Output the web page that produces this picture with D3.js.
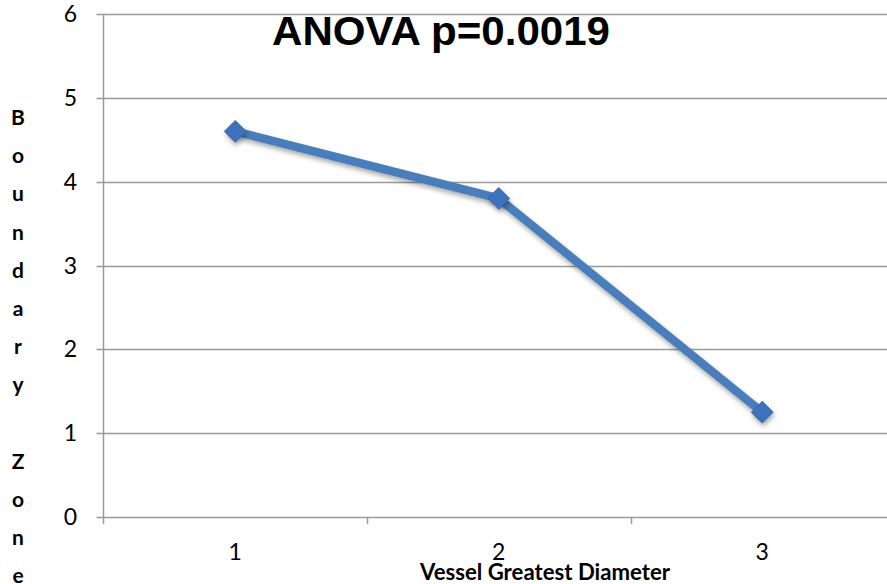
<!DOCTYPE html>
<html lang="en">
<head>
  <meta charset="utf-8">
  <script src="https://d3js.org/d3.v7.min.js"></script>
  <style>
    body { margin: 0; background: white; }
    svg { display: block; font-family: Lato, "Open Sans", sans-serif; }
  </style>
</head>
<body>
  <svg id="chart" width="887" height="584"></svg>
  <script>
    // data
    const categories = ["1", "2", "3"];
    const values = [4.6, 3.8, 1.25];
    const yTicks = [0, 1, 2, 3, 4, 5, 6];
    const titleText = "ANOVA p=0.0019";
    const xTitle = "Vessel Greatest Diameter";
    const yTitle = "Boundary Zone";

    const svg = d3.select("#chart");
    const width = +svg.attr("width");

    const plot = { left: 103.5, right: 894, top: 14, bottom: 517 };

    const x = d3.scalePoint()
      .domain(categories)
      .range([plot.left, plot.right])
      .padding(0.5);
    const step = x.step();

    const y = d3.scaleLinear()
      .domain([0, 6])
      .range([plot.bottom, plot.top]);

    // horizontal gridlines + ticks
    svg.append("g")
      .selectAll("line")
      .data(yTicks)
      .join("line")
      .attr("x1", plot.left - 7)
      .attr("x2", width)
      .attr("y1", d => Math.round(y(d)) + 0.5)
      .attr("y2", d => Math.round(y(d)) + 0.5)
      .attr("stroke", "#9a9a9a")
      .attr("stroke-width", 1.5);

    // y axis line
    svg.append("line")
      .attr("x1", plot.left).attr("x2", plot.left)
      .attr("y1", plot.top).attr("y2", plot.bottom + 7)
      .attr("stroke", "#9a9a9a")
      .attr("stroke-width", 1.5);

    // x axis tick marks between categories
    const xTickPos = d3.range(1, categories.length + 1).map(i => plot.left + i * step);
    svg.append("g")
      .selectAll("line")
      .data(xTickPos)
      .join("line")
      .attr("x1", d => Math.round(d) + 0.5)
      .attr("x2", d => Math.round(d) + 0.5)
      .attr("y1", plot.bottom)
      .attr("y2", plot.bottom + 7)
      .attr("stroke", "#9a9a9a")
      .attr("stroke-width", 1.5);

    // y tick labels
    svg.append("g")
      .selectAll("text")
      .data(yTicks)
      .join("text")
      .attr("x", 77)
      .attr("y", d => y(d) + 8)
      .attr("text-anchor", "end")
      .attr("font-size", 23)
      .text(d => d);

    // x tick labels
    svg.append("g")
      .selectAll("text")
      .data(categories)
      .join("text")
      .attr("x", d => x(d))
      .attr("y", 560)
      .attr("text-anchor", "middle")
      .attr("font-size", 23)
      .text(d => d);

    // title
    svg.append("text")
      .attr("x", 441)
      .attr("y", 45)
      .attr("text-anchor", "middle")
      .attr("font-family", "'Liberation Sans', Arial, sans-serif")
      .attr("font-size", 41)
      .attr("font-weight", "bold")
      .attr("textLength", 338)
      .attr("lengthAdjust", "spacingAndGlyphs")
      .text(titleText);

    // x axis title
    svg.append("text")
      .attr("x", 545)
      .attr("y", 580)
      .attr("text-anchor", "middle")
      .attr("font-size", 22)
      .attr("font-weight", "bold")
      .attr("textLength", 250)
      .attr("lengthAdjust", "spacingAndGlyphs")
      .text(xTitle);

    // y axis title, one letter per row
    svg.append("g")
      .selectAll("text")
      .data(yTitle.split(""))
      .join("text")
      .attr("x", 18)
      .attr("y", (d, i) => 125 + i * 38.2)
      .attr("text-anchor", "middle")
      .attr("font-size", 21)
      .attr("font-weight", "bold")
      .text(d => d);

    // shadow filter
    const defs = svg.append("defs");
    const f = defs.append("filter").attr("id", "shadow")
      .attr("x", "-50%").attr("y", "-50%").attr("width", "200%").attr("height", "200%");
    f.append("feDropShadow")
      .attr("dx", 1).attr("dy", 3).attr("stdDeviation", 2.5)
      .attr("flood-color", "#000").attr("flood-opacity", 0.35);

    const pts = categories.map((c, i) => [x(c), y(values[i])]);

    svg.append("path")
      .datum(pts)
      .attr("d", d3.line())
      .attr("fill", "none")
      .attr("stroke", "#4a7ebb")
      .attr("stroke-width", 8.5)
      .attr("stroke-linejoin", "round")
      .attr("filter", "url(#shadow)");

    svg.append("g")
      .selectAll("path")
      .data(pts)
      .join("path")
      .attr("transform", d => `translate(${d[0]},${d[1]})`)
      .attr("d", d3.symbol(d3.symbolDiamond2, 300)())
      .attr("fill", "#3c72bf")
      .attr("stroke", "#3567ad")
      .attr("stroke-width", 1)
      .attr("filter", "url(#shadow)");
  </script>
</body>
</html>
